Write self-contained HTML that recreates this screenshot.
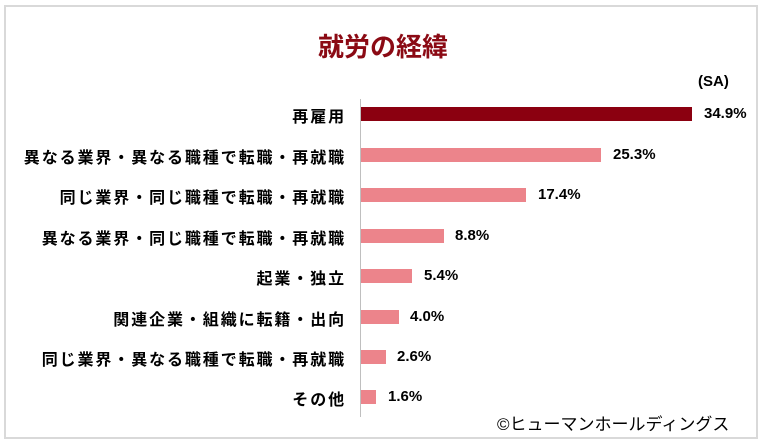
<!DOCTYPE html>
<html><head><meta charset="utf-8"><style>
body{margin:0;width:766px;height:444px;background:#fff;overflow:hidden;font-family:"Liberation Sans","Noto Sans CJK JP",sans-serif;}
.frame{position:absolute;left:4px;top:5px;width:750px;height:430px;border:2px solid #d9d9d9;}
.t{position:absolute;white-space:nowrap;}
.lab{position:absolute;right:422px;font-size:16px;letter-spacing:1.9px;margin-right:-2px;color:#000;font-weight:bold;white-space:nowrap;}
.bar{position:absolute;left:361px;height:14px;background:#ec848b;}
.val{position:absolute;font-size:15px;font-weight:bold;color:#000;}
</style></head><body>
<div class="frame"></div>
<div class="t" style="left:0;width:766px;text-align:center;top:27px;font-size:26px;font-weight:bold;color:#8b0a14;">就労の経緯</div>
<div class="t" style="left:698px;top:73px;font-size:15px;font-weight:bold;">(SA)</div>
<div style="position:absolute;left:360px;top:99px;width:1px;height:318px;background:#bfbfbf;"></div>

<div class="lab" style="top:103px">再雇用</div>
<div class="bar" style="top:107px;width:331px;background:#8b0010"></div>
<div class="val" style="left:704px;top:105px">34.9%</div>

<div class="lab" style="top:144px">異なる業界・異なる職種で転職・再就職</div>
<div class="bar" style="top:148px;width:240px"></div>
<div class="val" style="left:613px;top:146px">25.3%</div>

<div class="lab" style="top:184px">同じ業界・同じ職種で転職・再就職</div>
<div class="bar" style="top:188px;width:165px"></div>
<div class="val" style="left:538px;top:186px">17.4%</div>

<div class="lab" style="top:225px">異なる業界・同じ職種で転職・再就職</div>
<div class="bar" style="top:229px;width:83px"></div>
<div class="val" style="left:455px;top:227px">8.8%</div>

<div class="lab" style="top:265px">起業・独立</div>
<div class="bar" style="top:269px;width:51px"></div>
<div class="val" style="left:424px;top:267px">5.4%</div>

<div class="lab" style="top:306px">関連企業・組織に転籍・出向</div>
<div class="bar" style="top:310px;width:38px"></div>
<div class="val" style="left:410px;top:308px">4.0%</div>

<div class="lab" style="top:346px">同じ業界・異なる職種で転職・再就職</div>
<div class="bar" style="top:350px;width:25px"></div>
<div class="val" style="left:397px;top:348px">2.6%</div>

<div class="lab" style="top:386px">その他</div>
<div class="bar" style="top:390px;width:15px"></div>
<div class="val" style="left:388px;top:388px">1.6%</div>

<div class="t" style="left:497px;top:410px;font-size:17px;color:#000;">©ヒューマンホールディングス</div>
</body></html>
